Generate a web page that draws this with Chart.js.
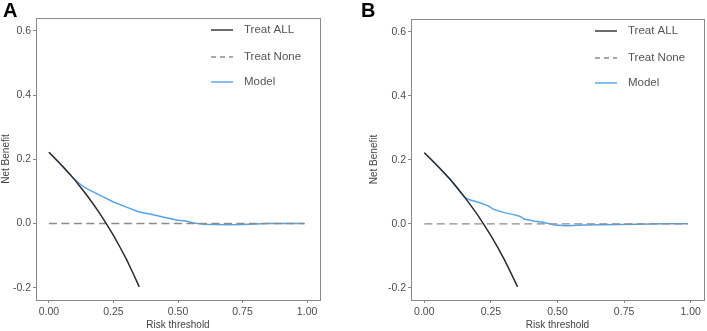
<!DOCTYPE html>
<html>
<head>
<meta charset="utf-8">
<script src="https://cdn.jsdelivr.net/npm/chart.js@4.4.1/dist/chart.umd.min.js"></script>
<style>
  html, body { margin: 0; padding: 0; background: #fff; }
  #wrap { position: relative; width: 707px; height: 331px; }
  .panel { position: absolute; top: 0; height: 331px; }
  .letter { position: absolute; top: -1px; font: bold 20px "Liberation Sans", Arial, sans-serif; color: #000; }
</style>
</head>
<body>
<div id="wrap">
  <div class="panel" style="left:0;width:354px"><canvas id="chartA" width="354" height="331"></canvas></div>
  <div class="panel" style="left:354px;width:353px"><canvas id="chartB" width="353" height="331"></canvas></div>
  <div class="letter" style="left:3px">A</div>
  <div class="letter" style="left:361px">B</div>
</div>
<script>
// valores
const xTicks = [0, 0.25, 0.5, 0.75, 1];
const yTicks = [-0.2, 0, 0.2, 0.4, 0.6];

const tAll = [0, 0.025, 0.05, 0.075, 0.1, 0.125, 0.15, 0.175, 0.2, 0.225, 0.25, 0.275, 0.3, 0.325, 0.35];
const nbAll = [0.222, 0.202, 0.181, 0.159, 0.136, 0.111, 0.085, 0.057, 0.028, -0.004, -0.037, -0.073, -0.111, -0.153, -0.197];

const tNone = [0, 0.99];
const nbNone = [0, 0];

// painel A
const tModelA = [0, 0.05, 0.1, 0.125, 0.15, 0.2, 0.25, 0.3, 0.35, 0.4, 0.45, 0.5, 0.53, 0.56, 0.6, 0.65, 0.7, 0.75, 0.8, 0.85, 0.9, 0.95, 0.99];
const nbModelA = [0.222, 0.181, 0.137, 0.120, 0.107, 0.087, 0.067, 0.051, 0.036, 0.028, 0.019, 0.010, 0.008, 0.002, -0.002, -0.003, -0.004, -0.003, -0.001, 0, 0, 0, 0];

// painel B
const tModelB = [0, 0.05, 0.1, 0.15, 0.17, 0.2, 0.24, 0.26, 0.3, 0.34, 0.36, 0.375, 0.41, 0.45, 0.49, 0.535, 0.6, 0.67, 0.8, 0.9, 0.99];
const nbModelB = [0.222, 0.181, 0.136, 0.083, 0.075, 0.068, 0.056, 0.045, 0.035, 0.028, 0.023, 0.015, 0.009, 0.004, -0.004, -0.006, -0.004, -0.003, -0.001, 0, 0];

const seriesNames = ['Treat ALL', 'Treat None', 'Model'];
const colAll = '#2b2b2b';
const colNone = '#8c8c8c';
const colModel = '#55a3e8';

function pts(xs, ys) {
  return xs.map((x, i) => ({ x: x, y: ys[i] }));
}

// moldura + legenda dentro da área do gráfico
const boxLegend = {
  id: 'boxLegend',
  afterDraw(chart) {
    const { ctx, chartArea: a } = chart;
    ctx.save();
    ctx.strokeStyle = '#8a8a8a';
    ctx.lineWidth = 1;
    ctx.strokeRect(Math.round(a.left) + 0.5, Math.round(a.top) + 0.5, Math.round(a.right - a.left), Math.round(a.bottom - a.top));

    const x0 = a.right - 109, x1 = a.right - 87, xt = a.right - 76;
    const rows = [a.top + 12, a.top + 39, a.top + 64];
    const styles = [
      { c: colAll, d: [] },
      { c: colNone, d: [5, 4] },
      { c: colModel, d: [] }
    ];
    ctx.font = '11.5px "Liberation Sans", Arial, sans-serif';
    ctx.textBaseline = 'middle';
    rows.forEach((y, i) => {
      ctx.beginPath();
      ctx.setLineDash(styles[i].d);
      ctx.strokeStyle = styles[i].c;
      ctx.lineWidth = 1.4;
      ctx.moveTo(x0, y);
      ctx.lineTo(x1, y);
      ctx.stroke();
      ctx.setLineDash([]);
      ctx.fillStyle = '#555';
      ctx.fillText(seriesNames[i], xt, y);
    });
    ctx.restore();
  }
};

function makeChart(id, tModel, nbModel, padLeft, yWidth, padRight, padTop) {
  const ctx = document.getElementById(id).getContext('2d');
  return new Chart(ctx, {
    type: 'line',
    data: {
      datasets: [
        { label: seriesNames[0], data: pts(tAll, nbAll), borderColor: colAll, borderWidth: 1.5 },
        { label: seriesNames[1], data: pts(tNone, nbNone), borderColor: colNone, borderWidth: 1.4, borderDash: [8, 4.5] },
        { label: seriesNames[2], data: pts(tModel, nbModel), borderColor: colModel, borderWidth: 1.5 }
      ]
    },
    options: {
      responsive: false,
      animation: false,
      events: [],
      elements: { point: { radius: 0 }, line: { tension: 0, fill: false } },
      layout: { padding: { left: padLeft, right: padRight, top: padTop, bottom: 0 } },
      plugins: { legend: { display: false }, tooltip: { enabled: false } },
      scales: {
        x: {
          type: 'linear',
          min: -0.05,
          max: 1.05,
          afterBuildTicks: (s) => { s.ticks = xTicks.map(v => ({ value: v })); },
          afterFit: (s) => { s.height = 31; },
          grid: { drawOnChartArea: false, drawTicks: true, tickLength: 3, color: '#8a8a8a' },
          border: { display: false },
          ticks: {
            padding: 3,
            color: '#4d4d4d',
            font: { family: '"Liberation Sans", Arial, sans-serif', size: 10.5 },
            callback: (v) => Number(v).toFixed(2)
          },
          title: {
            display: true,
            text: 'Risk threshold',
            color: '#444',
            padding: { top: 0, bottom: 0 },
            font: { family: '"Liberation Sans", Arial, sans-serif', size: 10 }
          }
        },
        y: {
          type: 'linear',
          min: -0.238,
          max: 0.64,
          afterBuildTicks: (s) => { s.ticks = yTicks.map(v => ({ value: v })); },
          afterFit: (s) => { s.width = yWidth; },
          grid: { drawOnChartArea: false, drawTicks: true, tickLength: 3, color: '#8a8a8a' },
          border: { display: false },
          ticks: {
            padding: 2,
            color: '#4d4d4d',
            font: { family: '"Liberation Sans", Arial, sans-serif', size: 10.5 },
            callback: (v) => Number(v).toFixed(1)
          },
          title: {
            display: true,
            text: 'Net Benefit',
            color: '#444',
            padding: { top: 0, bottom: 0 },
            font: { family: '"Liberation Sans", Arial, sans-serif', size: 10 }
          }
        }
      }
    },
    plugins: [boxLegend]
  });
}

makeChart('chartA', tModelA, nbModelA, 0, 36, 34, 18);
makeChart('chartB', tModelB, nbModelB, 14, 43, 3, 19);
</script>
</body>
</html>
